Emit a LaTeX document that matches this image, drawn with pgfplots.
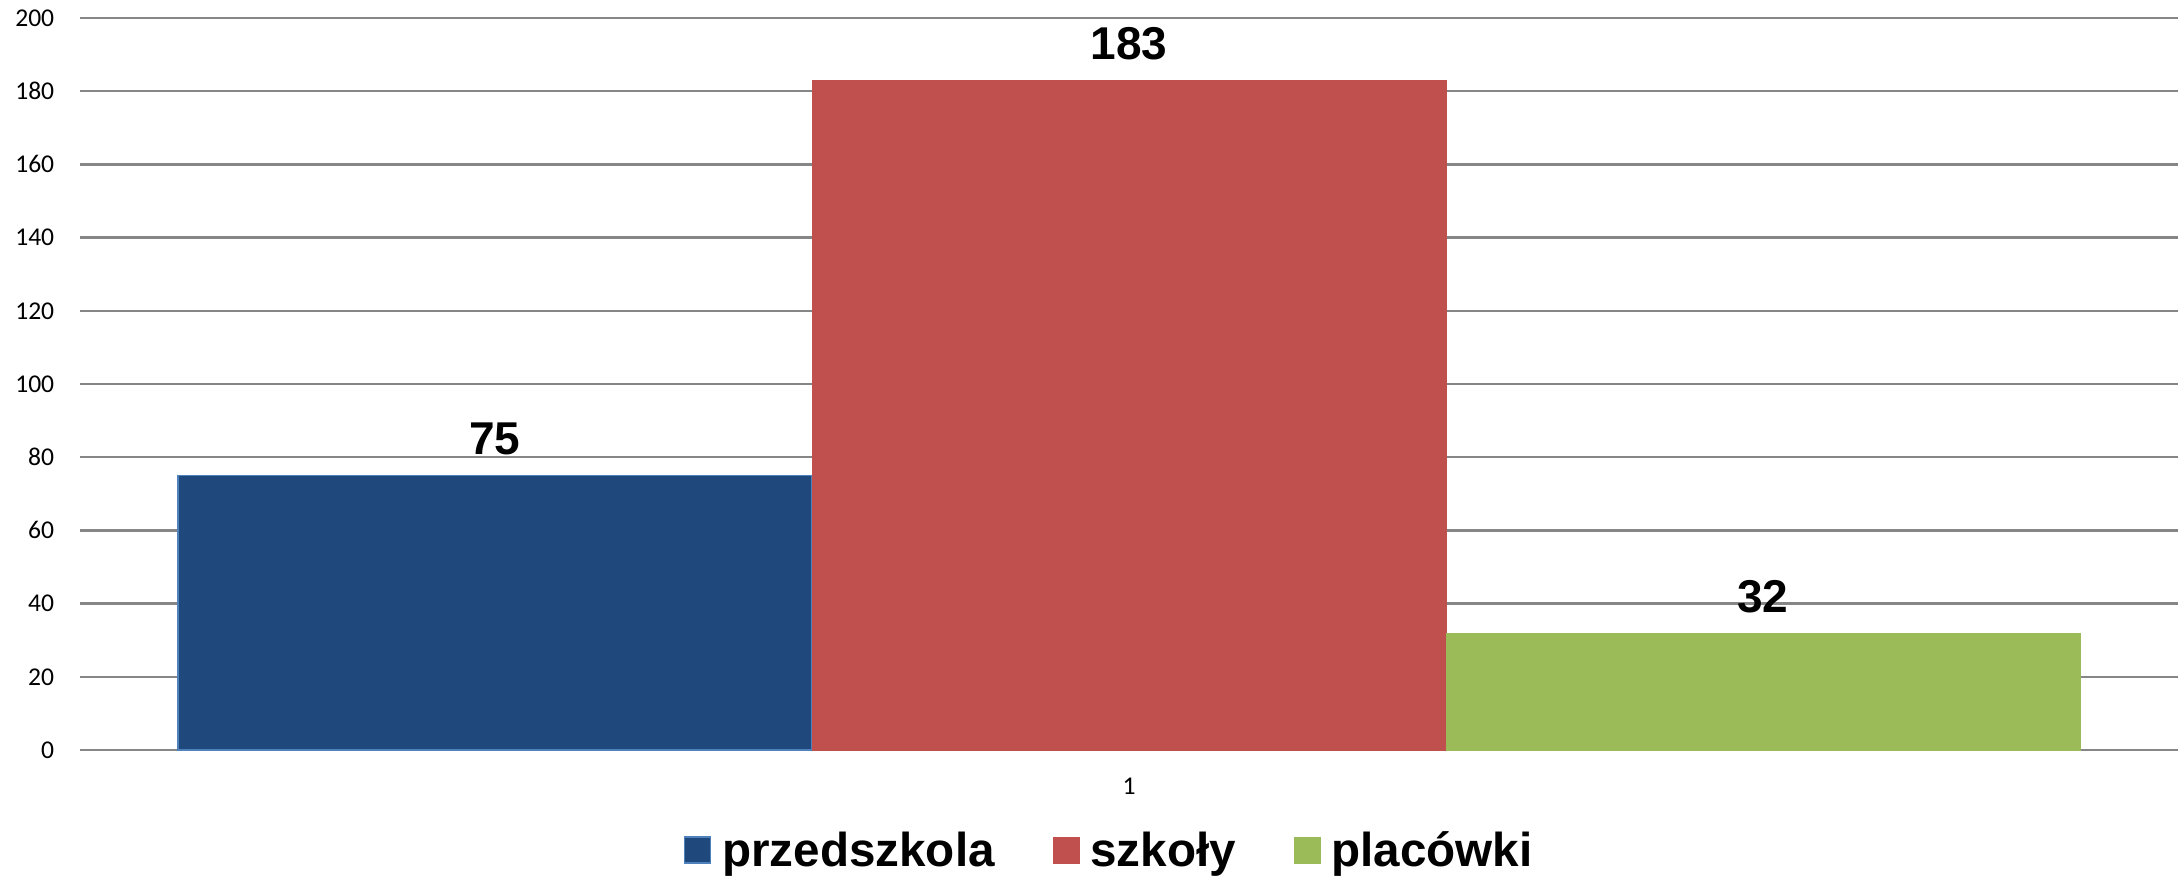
\documentclass[border=0pt]{standalone}
\usepackage{fontspec}
\setmainfont{Liberation Sans}
\newfontfamily\carlito{Carlito}
\usepackage{pgfplots}
\pgfplotsset{compat=1.18}
\definecolor{cblue}{HTML}{1F497D}
\definecolor{cblueedge}{HTML}{4F81BD}
\definecolor{cred}{HTML}{C0504D}
\definecolor{cgreen}{HTML}{9BBB59}
\definecolor{cgrid}{HTML}{868686}
\begin{document}
\begin{tikzpicture}
\begin{axis}[
  at={(0pt,0pt)}, anchor=south west,
  scale only axis, width=524.5pt, height=183pt,
  xmin=0, xmax=2, ymin=0, ymax=200, enlargelimits=false,
  ytick={0,20,...,200}, xtick={1}, xticklabels={1},
  ymajorgrids, grid style={draw=cgrid, line width=0.6pt},
  axis line style={draw=none}, tick style={draw=none},
  /pgf/number format/assume math mode=true,
  yticklabel style={font=\carlito\fontsize{6.4}{7.5}\selectfont, inner sep=0pt, anchor=east, xshift=-6.25pt},
  xticklabel style={font=\carlito\fontsize{6.4}{7.5}\selectfont, inner sep=0pt, anchor=north, yshift=-2.5pt},
  ybar=0pt, bar width=158.5pt,
  nodes near coords,
  nodes near coords style={font=\bfseries\fontsize{11.5}{13}\selectfont, inner sep=0pt, anchor=south, yshift=5pt, text=black},
  clip=false,
  legend columns=3,
  legend style={draw=none, fill=none, at={(rel axis cs:0.49,0)}, yshift=-25.5pt, anchor=center,
    font=\bfseries\fontsize{11.9}{14}\selectfont,
    column sep=0pt, nodes={inner sep=0pt},
    /tikz/every odd column/.append style={column sep=2.8pt},
    /tikz/every even column/.append style={column sep=14.5pt}},
  legend image code/.code={\draw[#1] (0pt,-2.75pt) rectangle (6.5pt,3.75pt);},
]
\addplot[fill=cblue, draw=cblueedge, line width=0.4pt] coordinates {(1,75)};
\addplot[fill=cred, draw=cred, line width=0.1pt] coordinates {(1,183)};
\addplot[fill=cgreen, draw=cgreen, line width=0.1pt] coordinates {(1,32)};
\legend{przedszkola, szkoły, placówki}
\end{axis}
\pgfresetboundingbox
\path[use as bounding box] (-20pt,-31.5pt) rectangle (524.5pt,187.5pt);
\end{tikzpicture}
\end{document}
